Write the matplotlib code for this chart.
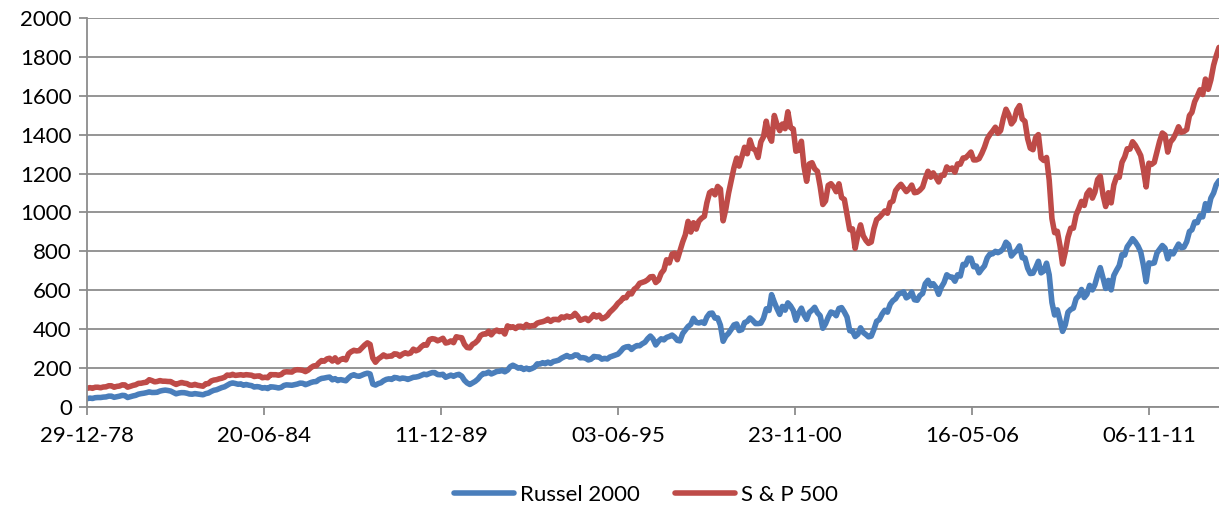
import matplotlib
matplotlib.use("Agg")
import matplotlib.pyplot as plt
import matplotlib.dates as mdates
import pandas as pd

plt.rcParams['font.family'] = ['Lato', 'DejaVu Sans']

# Month-end closes, first value is 29-12-78, then Jan 1979 .. Dec 2013 (12 per row)
sp500 = [96.11,
    99.93, 96.28, 101.59, 101.76, 99.08, 102.91, 103.81, 109.32, 109.32, 101.82, 106.16, 107.94,
    114.16, 113.66, 102.09, 106.29, 111.24, 114.24, 121.67, 122.38, 125.46, 127.47, 140.52, 135.76,
    129.55, 131.27, 136.00, 132.81, 132.59, 131.21, 130.92, 122.79, 116.18, 121.89, 126.35, 122.55,
    120.40, 113.11, 111.96, 116.44, 111.88, 109.61, 107.09, 119.51, 120.42, 133.71, 138.54, 140.64,
    145.30, 148.06, 152.96, 164.42, 162.39, 168.11, 162.56, 164.40, 166.07, 163.55, 166.40, 164.93,
    163.41, 157.06, 159.18, 160.05, 150.55, 153.18, 150.66, 166.68, 166.10, 166.09, 163.58, 167.24,
    179.63, 181.18, 180.66, 179.83, 189.55, 191.85, 190.92, 188.63, 182.08, 189.82, 202.17, 211.28,
    211.78, 226.92, 238.90, 235.52, 247.35, 250.84, 236.12, 252.93, 231.32, 243.98, 249.22, 242.17,
    274.08, 284.20, 291.70, 288.36, 290.10, 304.00, 318.66, 329.80, 321.83, 251.79, 230.30, 247.08,
    257.07, 267.82, 258.89, 261.33, 262.16, 273.50, 272.02, 261.52, 271.91, 278.97, 273.70, 277.72,
    297.47, 288.86, 294.87, 309.64, 320.52, 317.98, 346.08, 351.45, 349.15, 340.36, 345.99, 353.40,
    329.08, 331.89, 339.94, 330.80, 361.23, 358.02, 356.15, 322.56, 306.05, 304.00, 322.22, 330.22,
    343.93, 367.07, 375.22, 375.35, 389.83, 371.16, 387.81, 395.43, 387.86, 392.46, 375.22, 417.09,
    408.79, 412.70, 403.69, 414.95, 415.35, 408.14, 424.21, 414.03, 417.80, 418.68, 431.35, 435.71,
    438.78, 443.38, 451.67, 440.19, 450.19, 450.53, 448.13, 463.56, 458.93, 467.83, 461.79, 466.45,
    481.61, 467.14, 445.77, 450.91, 456.50, 444.27, 458.26, 475.49, 462.69, 472.35, 453.69, 459.27,
    470.42, 487.39, 500.71, 514.71, 533.40, 544.75, 562.06, 561.88, 584.41, 581.50, 605.37, 615.93,
    636.02, 640.43, 645.50, 654.17, 669.12, 670.63, 639.95, 651.99, 687.31, 705.27, 757.02, 740.74,
    786.16, 790.82, 757.12, 801.34, 848.28, 885.14, 954.29, 899.47, 947.28, 914.62, 955.40, 970.43,
    980.28, 1049.34, 1101.75, 1111.75, 1090.82, 1133.84, 1120.67, 957.28, 1017.01, 1098.67, 1163.63, 1229.23,
    1279.64, 1238.33, 1286.37, 1335.18, 1301.84, 1372.71, 1328.72, 1320.41, 1282.71, 1362.93, 1388.91, 1469.25,
    1394.46, 1366.42, 1498.58, 1452.43, 1420.60, 1454.60, 1430.83, 1517.68, 1436.51, 1429.40, 1314.95, 1320.28,
    1366.01, 1239.94, 1160.33, 1249.46, 1255.82, 1224.42, 1211.23, 1133.58, 1040.94, 1059.78, 1139.45, 1148.08,
    1130.20, 1106.73, 1147.39, 1076.92, 1067.14, 989.82, 911.62, 916.07, 815.28, 885.76, 936.31, 879.82,
    855.70, 841.15, 848.18, 916.92, 963.59, 974.50, 990.31, 1008.01, 995.97, 1050.71, 1058.20, 1111.92,
    1131.13, 1144.94, 1126.21, 1107.30, 1120.68, 1140.84, 1101.72, 1104.24, 1114.58, 1130.20, 1173.82, 1211.92,
    1181.27, 1203.60, 1180.59, 1156.85, 1191.50, 1191.33, 1234.18, 1220.33, 1228.81, 1207.01, 1249.48, 1248.29,
    1280.08, 1280.66, 1294.87, 1310.61, 1270.09, 1270.20, 1276.66, 1303.82, 1335.85, 1377.94, 1400.63, 1418.30,
    1438.24, 1406.82, 1420.86, 1482.37, 1530.62, 1503.35, 1455.27, 1473.99, 1526.75, 1549.38, 1481.14, 1468.36,
    1378.55, 1330.63, 1322.70, 1385.59, 1400.38, 1280.00, 1267.38, 1282.83, 1166.36, 968.75, 896.24, 903.25,
    825.88, 735.09, 797.87, 872.81, 919.14, 919.32, 987.48, 1020.62, 1057.08, 1036.19, 1095.63, 1115.10,
    1073.87, 1104.49, 1169.43, 1186.69, 1089.41, 1030.71, 1101.60, 1049.33, 1141.20, 1183.26, 1180.55, 1257.64,
    1286.12, 1327.22, 1325.83, 1363.61, 1345.20, 1320.64, 1292.28, 1218.89, 1131.42, 1253.30, 1246.96, 1257.60,
    1312.41, 1365.68, 1408.47, 1397.91, 1310.33, 1362.16, 1379.32, 1406.58, 1440.67, 1412.16, 1416.18, 1426.19,
    1498.11, 1514.68, 1569.19, 1597.57, 1630.74, 1606.28, 1685.73, 1632.97, 1681.55, 1756.54, 1805.81, 1848.36,
]

russell2000 = [43.0,
    46, 44, 48, 49, 49, 51, 52, 56, 56, 50, 53, 55.9,
    60, 59, 49, 53, 57, 60, 66, 69, 71, 74, 78, 74.8,
    75, 76, 82, 85, 87, 85, 82, 75, 68, 72, 74, 73.7,
    71, 67, 66, 69, 67, 65, 63, 69, 72, 80, 86, 88.9,
    95, 100, 104, 112, 120, 124, 121, 117, 119, 112, 116, 112.3,
    110, 103, 105, 103, 97, 100, 95, 104, 103, 101, 98, 101.5,
    111, 114, 113, 112, 115, 118, 123, 122, 115, 120, 126, 129.9,
    131, 141, 147, 149, 152, 154, 140, 146, 136, 141, 138, 135.0,
    150, 161, 166, 160, 158, 164, 170, 174, 170, 118, 113, 120.4,
    125, 135, 142, 145, 142, 152, 150, 145, 149, 147, 142, 147.4,
    153, 154, 157, 163, 169, 166, 172, 177, 177, 167, 166, 168.3,
    153, 158, 164, 158, 165, 168, 159, 137, 124, 116, 124, 132.2,
    144, 160, 172, 172, 180, 170, 176, 183, 184, 189, 181, 189.9,
    208, 215, 208, 200, 203, 193, 200, 193, 198, 205, 222, 221.0,
    228, 223, 231, 224, 234, 237, 241, 251, 258, 265, 257, 258.6,
    268, 267, 253, 254, 251, 242, 246, 260, 258, 257, 246, 250.4,
    247, 257, 262, 267, 272, 286, 303, 309, 311, 296, 308, 316.0,
    315, 325, 333, 351, 365, 350, 319, 338, 351, 345, 358, 362.6,
    370, 360, 343, 340, 378, 396, 414, 425, 456, 435, 432, 437.0,
    430, 462, 481, 483, 457, 458, 421, 338, 364, 379, 399, 422.0,
    427, 393, 398, 434, 440, 458, 445, 429, 429, 431, 456, 504.8,
    496.2, 577.7, 539.1, 506.3, 476.2, 517.2, 497.9, 535.5, 519.9, 496.2, 445.9, 483.5,
    508.3, 475.0, 450.5, 485.8, 497.8, 512.6, 484.8, 469.3, 404.9, 428.2, 461.8, 488.5,
    483.1, 469.4, 506.5, 511.1, 488.5, 462.6, 392.4, 391.4, 362.3, 373.9, 407.3, 383.1,
    372.2, 361.0, 364.5, 398.7, 441.0, 449.0, 477.4, 497.4, 487.7, 528.2, 546.5, 556.9,
    580.8, 585.6, 591.8, 561.1, 569.8, 591.5, 551.3, 548.9, 572.9, 583.8, 633.8, 651.6,
    624.0, 634.1, 615.1, 579.4, 616.7, 639.7, 679.8, 669.3, 667.8, 646.6, 679.8, 673.2,
    733.2, 730.6, 765.1, 764.5, 721.0, 724.7, 690.0, 709.7, 725.6, 766.8, 786.1, 787.7,
    800.3, 793.3, 800.7, 814.6, 847.2, 833.7, 776.1, 792.9, 805.5, 828.0, 767.8, 766.0,
    713.3, 686.2, 688.0, 716.2, 749.1, 689.7, 699.6, 739.5, 679.6, 537.5, 473.1, 499.5,
    443.5, 389.0, 422.8, 487.6, 501.6, 508.3, 557.0, 572.1, 604.3, 562.8, 579.7, 625.4,
    602.0, 628.6, 678.6, 716.6, 663.5, 609.5, 650.9, 602.1, 676.1, 703.4, 727.0, 783.7,
    781.3, 823.5, 843.5, 865.3, 848.3, 827.4, 797.0, 726.8, 644.2, 741.1, 737.4, 740.9,
    792.8, 810.9, 830.3, 816.9, 761.8, 798.5, 786.9, 812.1, 837.5, 818.7, 821.9, 849.4,
    902.1, 911.1, 951.5, 947.5, 984.1, 977.5, 1045.3, 1010.9, 1073.8, 1100.2, 1142.9, 1163.6,
]

tick_labels = ['29-12-78', '20-06-84', '11-12-89', '03-06-95', '23-11-00', '16-05-06', '06-11-11']
series_names = ['Russel 2000', 'S & P 500']

dates = [pd.Timestamp('1978-12-29')] + list(pd.date_range('1979-01-31', '2013-12-31', freq='ME'))
tick_dates = [pd.to_datetime(s, format='%d-%m-%y') for s in tick_labels]

BLUE = '#4A7EBB'
RED = '#BE4B48'
GRID = '#8C8C8C'

fig = plt.figure(figsize=(12.19, 5.12), dpi=100)
ax = fig.add_axes([0.0714, 0.205, 0.9286, 0.760])

lw = 4.0
ax.plot(dates, russell2000, color=BLUE, lw=lw, label=series_names[0],
        solid_joinstyle='round', solid_capstyle='round')
ax.plot(dates, sp500, color=RED, lw=lw, label=series_names[1],
        solid_joinstyle='round', solid_capstyle='round')

ax.set_ylim(0, 2000)
ax.set_yticks(range(0, 2001, 200))
ax.set_xlim(pd.Timestamp('1978-12-29'), pd.Timestamp('2013-12-31'))
ax.set_xticks(tick_dates)
ax.xaxis.set_major_formatter(mdates.DateFormatter('%d-%m-%y'))

ax.grid(axis='y', color=GRID, lw=1.3)
ax.set_axisbelow(True)
for side in ['top', 'right']:
    ax.spines[side].set_visible(False)
for side in ['left', 'bottom']:
    ax.spines[side].set_color(GRID)
    ax.spines[side].set_linewidth(1.3)

ax.tick_params(axis='y', length=6, width=1.3, color=GRID, labelsize=16, pad=5)
ax.tick_params(axis='x', length=6, width=1.3, color=GRID, labelsize=16, pad=8)

fig.legend(loc='lower center', bbox_to_anchor=(0.53, -0.025), ncol=2, frameon=False,
           fontsize=16, handlelength=2.7, columnspacing=1.6, handletextpad=0.25)

fig.savefig('out.png', dpi=100)
